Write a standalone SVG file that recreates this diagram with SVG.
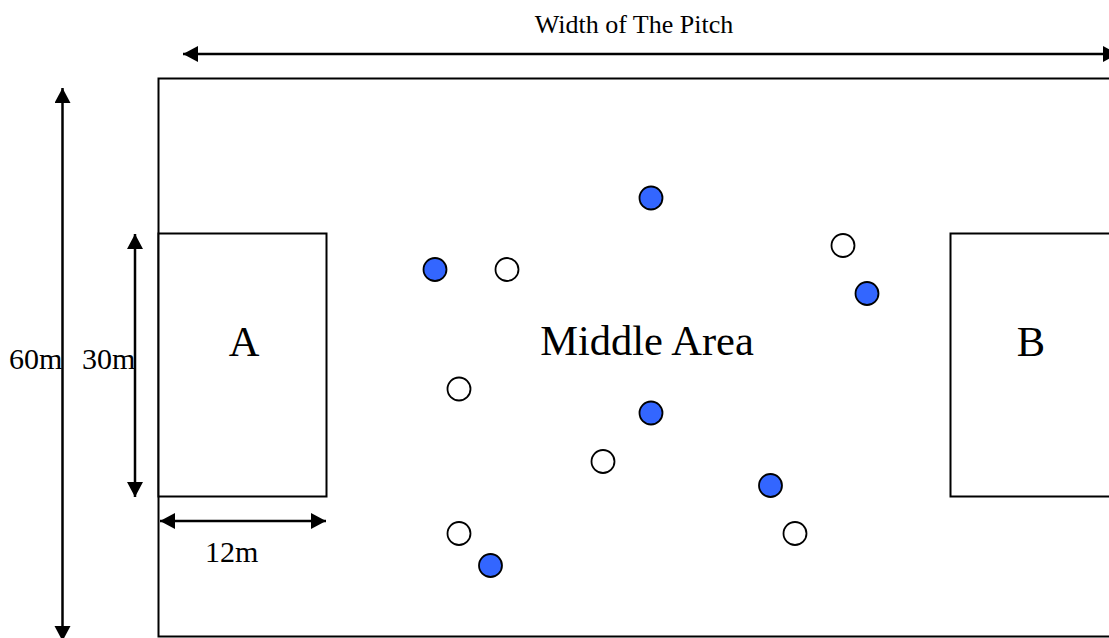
<svg xmlns="http://www.w3.org/2000/svg" width="1109" height="638" viewBox="0 0 1109 638">
  <style>
    .frame { fill: #ffffff; stroke: #000000; stroke-width: 2; }
    .dim { stroke: #000000; stroke-width: 2.5; fill: none; }
    .label { font-family: "Liberation Serif", "Times New Roman", serif; fill: #000000; }
    .title { font-size: 26px; }
    .small { font-size: 30px; }
    .big { font-size: 42.5px; }
    .blue { fill: #3366ff; stroke: #000000; stroke-width: 1.8; }
    .white { fill: #ffffff; stroke: #000000; stroke-width: 1.8; }
  </style>
  <defs>
    <marker id="head" markerUnits="userSpaceOnUse" markerWidth="18" markerHeight="18" refX="15" refY="8" orient="auto-start-reverse">
      <path d="M0,0 L15,8 L0,16 Z" fill="#000000"/>
    </marker>
  </defs>
  <rect width="1109" height="638" fill="#ffffff"/>

  <!-- pitch outline -->
  <g id="pitch">
    <rect class="frame" x="158.5" y="78.5" width="960" height="558"/>
  </g>

  <!-- penalty areas -->
  <g id="area-a">
    <rect class="frame" x="158.5" y="233.5" width="168" height="263"/>
    <text class="label big" x="244" y="356" text-anchor="middle">A</text>
  </g>
  <g id="area-b">
    <rect class="frame" x="950.5" y="233.5" width="170" height="263"/>
    <text class="label big" x="1031" y="356" text-anchor="middle">B</text>
  </g>

  <g id="middle-area">
    <text class="label big" x="647" y="355" text-anchor="middle">Middle Area</text>
  </g>

  <!-- dimension arrows -->
  <g id="connectors">
    <line class="dim" x1="183" y1="54" x2="1118" y2="54" marker-start="url(#head)" marker-end="url(#head)"/>
    <line class="dim" x1="62.5" y1="88" x2="62.5" y2="641" marker-start="url(#head)" marker-end="url(#head)"/>
    <line class="dim" x1="135" y1="234" x2="135" y2="497" marker-start="url(#head)" marker-end="url(#head)"/>
    <line class="dim" x1="160" y1="521" x2="326" y2="521" marker-start="url(#head)" marker-end="url(#head)"/>
  </g>

  <g id="dimension-labels">
    <text class="label title" x="634" y="33" text-anchor="middle">Width of The Pitch</text>
    <text class="label small" x="9" y="369">60m</text>
    <text class="label small" x="82" y="369">30m</text>
    <text class="label small" x="205" y="562">12m</text>
  </g>

  <!-- players -->
  <g id="team-blue">
    <circle class="blue" cx="651" cy="198" r="11.5"/>
    <circle class="blue" cx="435" cy="269.5" r="11.5"/>
    <circle class="blue" cx="867" cy="293.5" r="11.5"/>
    <circle class="blue" cx="651" cy="413" r="11.5"/>
    <circle class="blue" cx="770.5" cy="485.5" r="11.5"/>
    <circle class="blue" cx="490.5" cy="565.5" r="11.5"/>
  </g>
  <g id="team-white">
    <circle class="white" cx="507" cy="269.5" r="11.5"/>
    <circle class="white" cx="843" cy="245.5" r="11.5"/>
    <circle class="white" cx="459" cy="389" r="11.5"/>
    <circle class="white" cx="603" cy="461.5" r="11.5"/>
    <circle class="white" cx="459" cy="533.5" r="11.5"/>
    <circle class="white" cx="795" cy="533.5" r="11.5"/>
  </g>
</svg>
